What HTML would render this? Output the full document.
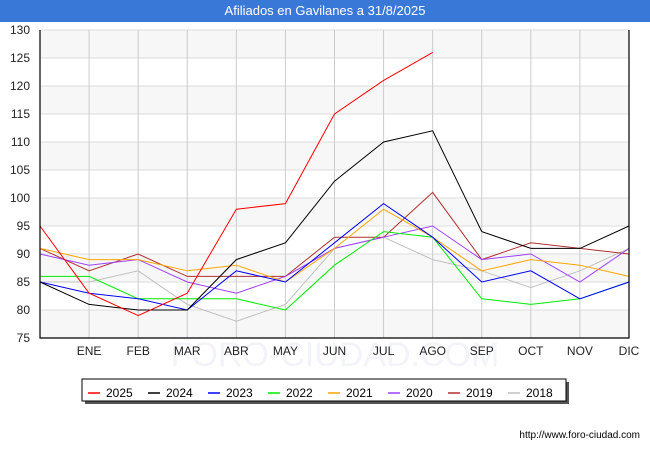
<!DOCTYPE html>
<html><head><meta charset="utf-8"><style>
body{margin:0;width:650px;height:450px;background:#fff;font-family:"Liberation Sans",sans-serif;overflow:hidden}
#title{position:absolute;left:0;top:0;width:650px;height:22px;background:#3a78d8;color:#fff;font-size:13px;text-align:center;line-height:22px}
svg{position:absolute;left:0;top:0}
</style></head><body>
<div id="title">Afiliados en Gavilanes a 31/8/2025</div>
<svg id="c" width="650" height="450"></svg>
<script>
const months=["","ENE","FEB","MAR","ABR","MAY","JUN","JUL","AGO","SEP","OCT","NOV","DIC"];
const yTicks=[75,80,85,90,95,100,105,110,115,120,125,130];
const years=["2025","2024","2023","2022","2021","2020","2019","2018"];
const colors=["#ff0000","#000000","#0000ff","#00ee00","#ffa500","#a040ff","#b03030","#c0c0c0"];
const s2025=[95,83,79,83,98,99,115,121,126];
const s2024=[85,81,80,80,89,92,103,110,112,94,91,91,95];
const s2023=[85,83,82,80,87,85,92,99,93,85,87,82,85];
const s2022=[86,86,82,82,82,80,88,94,93,82,81,82,85];
const s2021=[91,89,89,87,88,85,91,98,93,87,89,88,86];
const s2020=[90,88,89,85,83,86,91,93,95,89,90,85,91];
const s2019=[91,87,90,86,86,86,93,93,101,89,92,91,90];
const s2018=[85,85,87,81,78,81,91,93,89,87,84,87,91];
const series=[s2025,s2024,s2023,s2022,s2021,s2020,s2019,s2018];
const NS="http://www.w3.org/2000/svg",svg=document.getElementById('c');
const L=40,R=629,T=30,B=338;
const x=i=>L+(R-L)*i/12, y=v=>B-(v-75)*(B-T)/55;
function el(t,a,p){const e=document.createElementNS(NS,t);for(const k in a)e.setAttribute(k,a[k]);(p||svg).appendChild(e);return e;}
for(let i=0;i<11;i++){if(i%2==0){const r=el('rect',{x:L,y:y(yTicks[i+1]),width:R-L,height:y(yTicks[i])-y(yTicks[i+1]),fill:'#f7f7f7'});}}
const wm=el('text',{x:335,y:366,'text-anchor':'middle','font-size':34,fill:'#f3f4f9'});wm.textContent="FORO-CIUDAD.COM";
yTicks.forEach(v=>{const g=el('line',{x1:L,x2:R,y1:y(v),y2:y(v),stroke:'#dddddd'});
const t=el('text',{x:L-10,y:y(v)+4,'text-anchor':'end','font-size':12,fill:'#222'});t.textContent=v;});
months.forEach((m,i)=>{if(i>0){const g=el('line',{x1:x(i),x2:x(i),y1:T,y2:B,stroke:'#cccccc'});}
const t=el('text',{x:x(i),y:B+17,'text-anchor':'middle','font-size':12,fill:'#222'});t.textContent=m;});
for(let k=series.length-1;k>=0;k--){const p=el('polyline',{points:series[k].map((v,i)=>x(i)+','+y(v)).join(' '),fill:'none',stroke:colors[k],'stroke-width':1});
}
const ax=el('path',{d:`M${L},${T}V${B}H${R}V${T}`,fill:'none',stroke:'#000','stroke-width':1.2});
const sh=el('rect',{x:85,y:382,width:484,height:22,fill:'#555'});
const lb=el('rect',{x:82,y:379,width:484,height:22,fill:'#fff',stroke:'#000'});
years.forEach((yr,k)=>{const lx=88+k*60;const g=el('g',{});
el('line',{x1:lx,x2:lx+12,y1:393,y2:393,stroke:colors[k],'stroke-width':1.5},g);
const t=el('text',{x:lx+18,y:397,'font-size':12,fill:'#000'},g);t.textContent=yr;});
const u=el('text',{x:640,y:438,'text-anchor':'end','font-size':10,fill:'#000'});u.textContent="http://www.foro-ciudad.com";
</script>
</body></html>
